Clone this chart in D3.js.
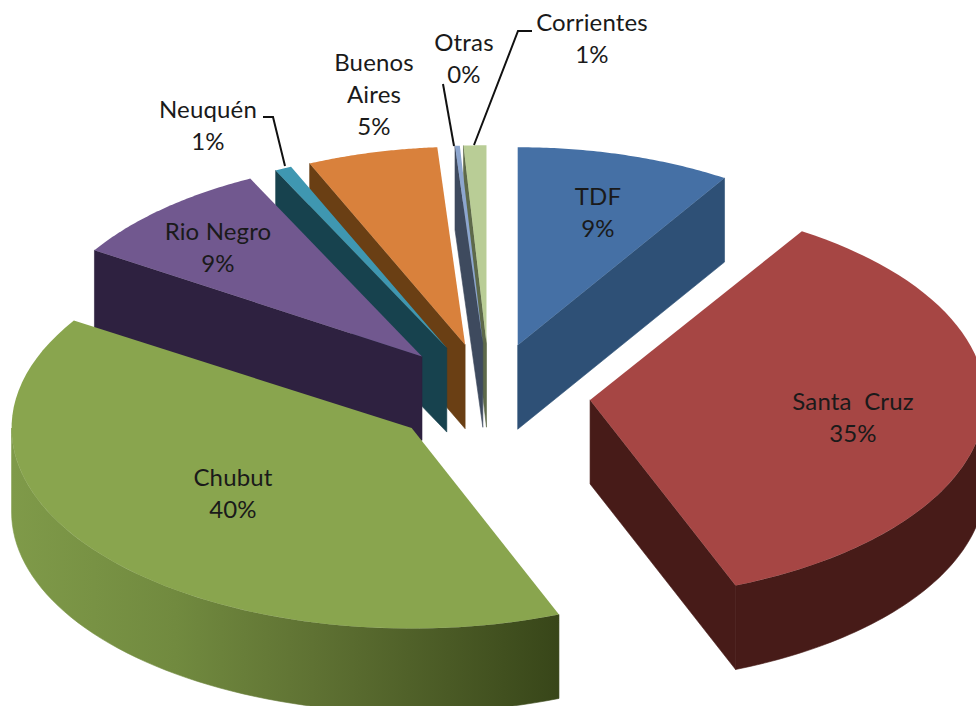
<!DOCTYPE html>
<html>
<head>
<meta charset="utf-8">
<script src="https://cdn.jsdelivr.net/npm/d3@7"></script>
<style>
    html, body { margin: 0; padding: 0; background: #fff; overflow: hidden; }
    text { font-family: Lato, sans-serif; font-size: 24px; letter-spacing: 0.15px; fill: #1a1a1a; text-anchor: middle; white-space: pre; }
</style>
</head>
<body>
<div id="chart"></div>
<script>
const width = 976;
const height = 706;

// values
const provinces = ['TDF', 'Santa Cruz', 'Chubut', 'Rio Negro', 'Neuquén', 'Buenos Aires', 'Otras', 'Corrientes'];
const shares = [9.0, 35.0, 40.0, 8.7, 0.7, 5.45, 0.2, 0.95];

// styling per slice
const topColors = ['#4570a5', '#a64644', '#89a54e', '#71588f', '#3f97b1', '#d9813c', '#8da6cf', '#b9cd96'];
const wallColors = ['#2e5076', '#471b18', '#384619', '#2e2140', '#17424e', '#6a3f14', '#3e4a5e', '#5e6a4a'];
const labelLines = [['TDF'], ['Santa  Cruz'], ['Chubut'], ['Rio Negro'], ['Neuquén'], ['Buenos', 'Aires'], ['Otras'], ['Corrientes']];
const labelX = [598, 853, 233, 218, 208, 374, 464, 592];
const labelY = [205, 410, 486, 240, 118, 71, 51, 31];
const lineGap = 32;
const leaders = [
    [[263, 117], [273, 117], [285, 166]],
    [[443, 84], [454, 146]],
    [[532, 31], [518, 31], [474, 145]],
];

// pie geometry
const cx = 489.5;
const cy = 395;
const baseRx = 386;
const perspective = 0.17;
const tilt = 0.513;
const explode = 101;
const depth = 84;

const svg = d3.select('#chart')
    .append('svg')
    .attr('width', width)
    .attr('height', height);

const grad = svg.append('defs')
    .append('linearGradient')
    .attr('id', 'chubutWall')
    .attr('gradientUnits', 'userSpaceOnUse')
    .attr('x1', 12).attr('x2', 558)
    .attr('y1', 0).attr('y2', 0);
[[0, '#7f9a49'], [0.3, '#718a3f'], [0.55, '#5f7233'], [0.8, '#4a5a25'], [1, '#384619']].forEach(([o, c]) => {
    grad.append('stop').attr('offset', o).attr('stop-color', c);
});

const pie = d3.pie().sort(null).value((d) => d)(shares);
const slices = pie.map((p, i) => {
    const mid = (p.startAngle + p.endAngle) / 2;
    const ax = cx + explode * Math.sin(mid);
    const ay = cy - explode * Math.cos(mid) * tilt;
    const rx = baseRx + perspective * (ay - 345);
    const ry = 198 + 0.03 * (ay - 345);
    return { i, mid, a0: p.startAngle, a1: p.endAngle, ax, ay, rx, ry };
});

const rim = (s, a, dy = 0) => [s.ax + s.rx * Math.sin(a), s.ay - s.ry * Math.cos(a) + dy];
const line = d3.line();
const samples = (a, b) => d3.range(0, 61).map((k) => a + (b - a) * k / 60);

// back slices first so the front ones cover them
const ordered = slices.slice().sort((a, b) => a.ay - b.ay);

ordered.forEach((s) => {
    const g = svg.append('g').attr('class', 'slice');
    const wall = wallColors[s.i];

    // straight side walls, only the ones facing the viewer
    [s.a0, s.a1].forEach((a, k) => {
        const facing = k === 0 ? a > Math.PI : a < Math.PI;
        if (!facing) return;
        const pts = [[s.ax, s.ay], rim(s, a), rim(s, a, depth), [s.ax, s.ay + depth]];
        g.append('path')
            .attr('d', line(pts) + 'Z')
            .attr('fill', wall)
            .attr('stroke', wall)
            .attr('stroke-width', 0.6);
    });

    // outer curved wall on the front half
    const from = Math.max(s.a0, Math.PI / 2);
    const to = Math.min(s.a1, Math.PI * 1.5);
    if (to > from) {
        const upper = samples(from, to).map((a) => rim(s, a));
        const lower = samples(to, from).map((a) => rim(s, a, depth));
        const paint = s.i === 2 ? 'url(#chubutWall)' : wall;
        g.append('path')
            .attr('d', line(upper.concat(lower)) + 'Z')
            .attr('fill', paint)
            .attr('stroke', paint)
            .attr('stroke-width', 0.6);
    }

    // top face
    const face = [[s.ax, s.ay]].concat(samples(s.a0, s.a1).map((a) => rim(s, a)));
    g.append('path')
        .attr('d', line(face) + 'Z')
        .attr('fill', topColors[s.i]);
});

leaders.forEach((pts) => {
    svg.append('path')
        .attr('d', line(pts))
        .attr('fill', 'none')
        .attr('stroke', '#111')
        .attr('stroke-width', 2);
});

provinces.forEach((name, i) => {
    const t = svg.append('text').attr('class', 'label');
    const rows = labelLines[i].concat([Math.round(shares[i]) + '%']);
    rows.forEach((row, k) => {
        t.append('tspan')
            .attr('x', labelX[i])
            .attr('y', labelY[i] + k * lineGap)
            .text(row);
    });
});
</script>
</body>
</html>
